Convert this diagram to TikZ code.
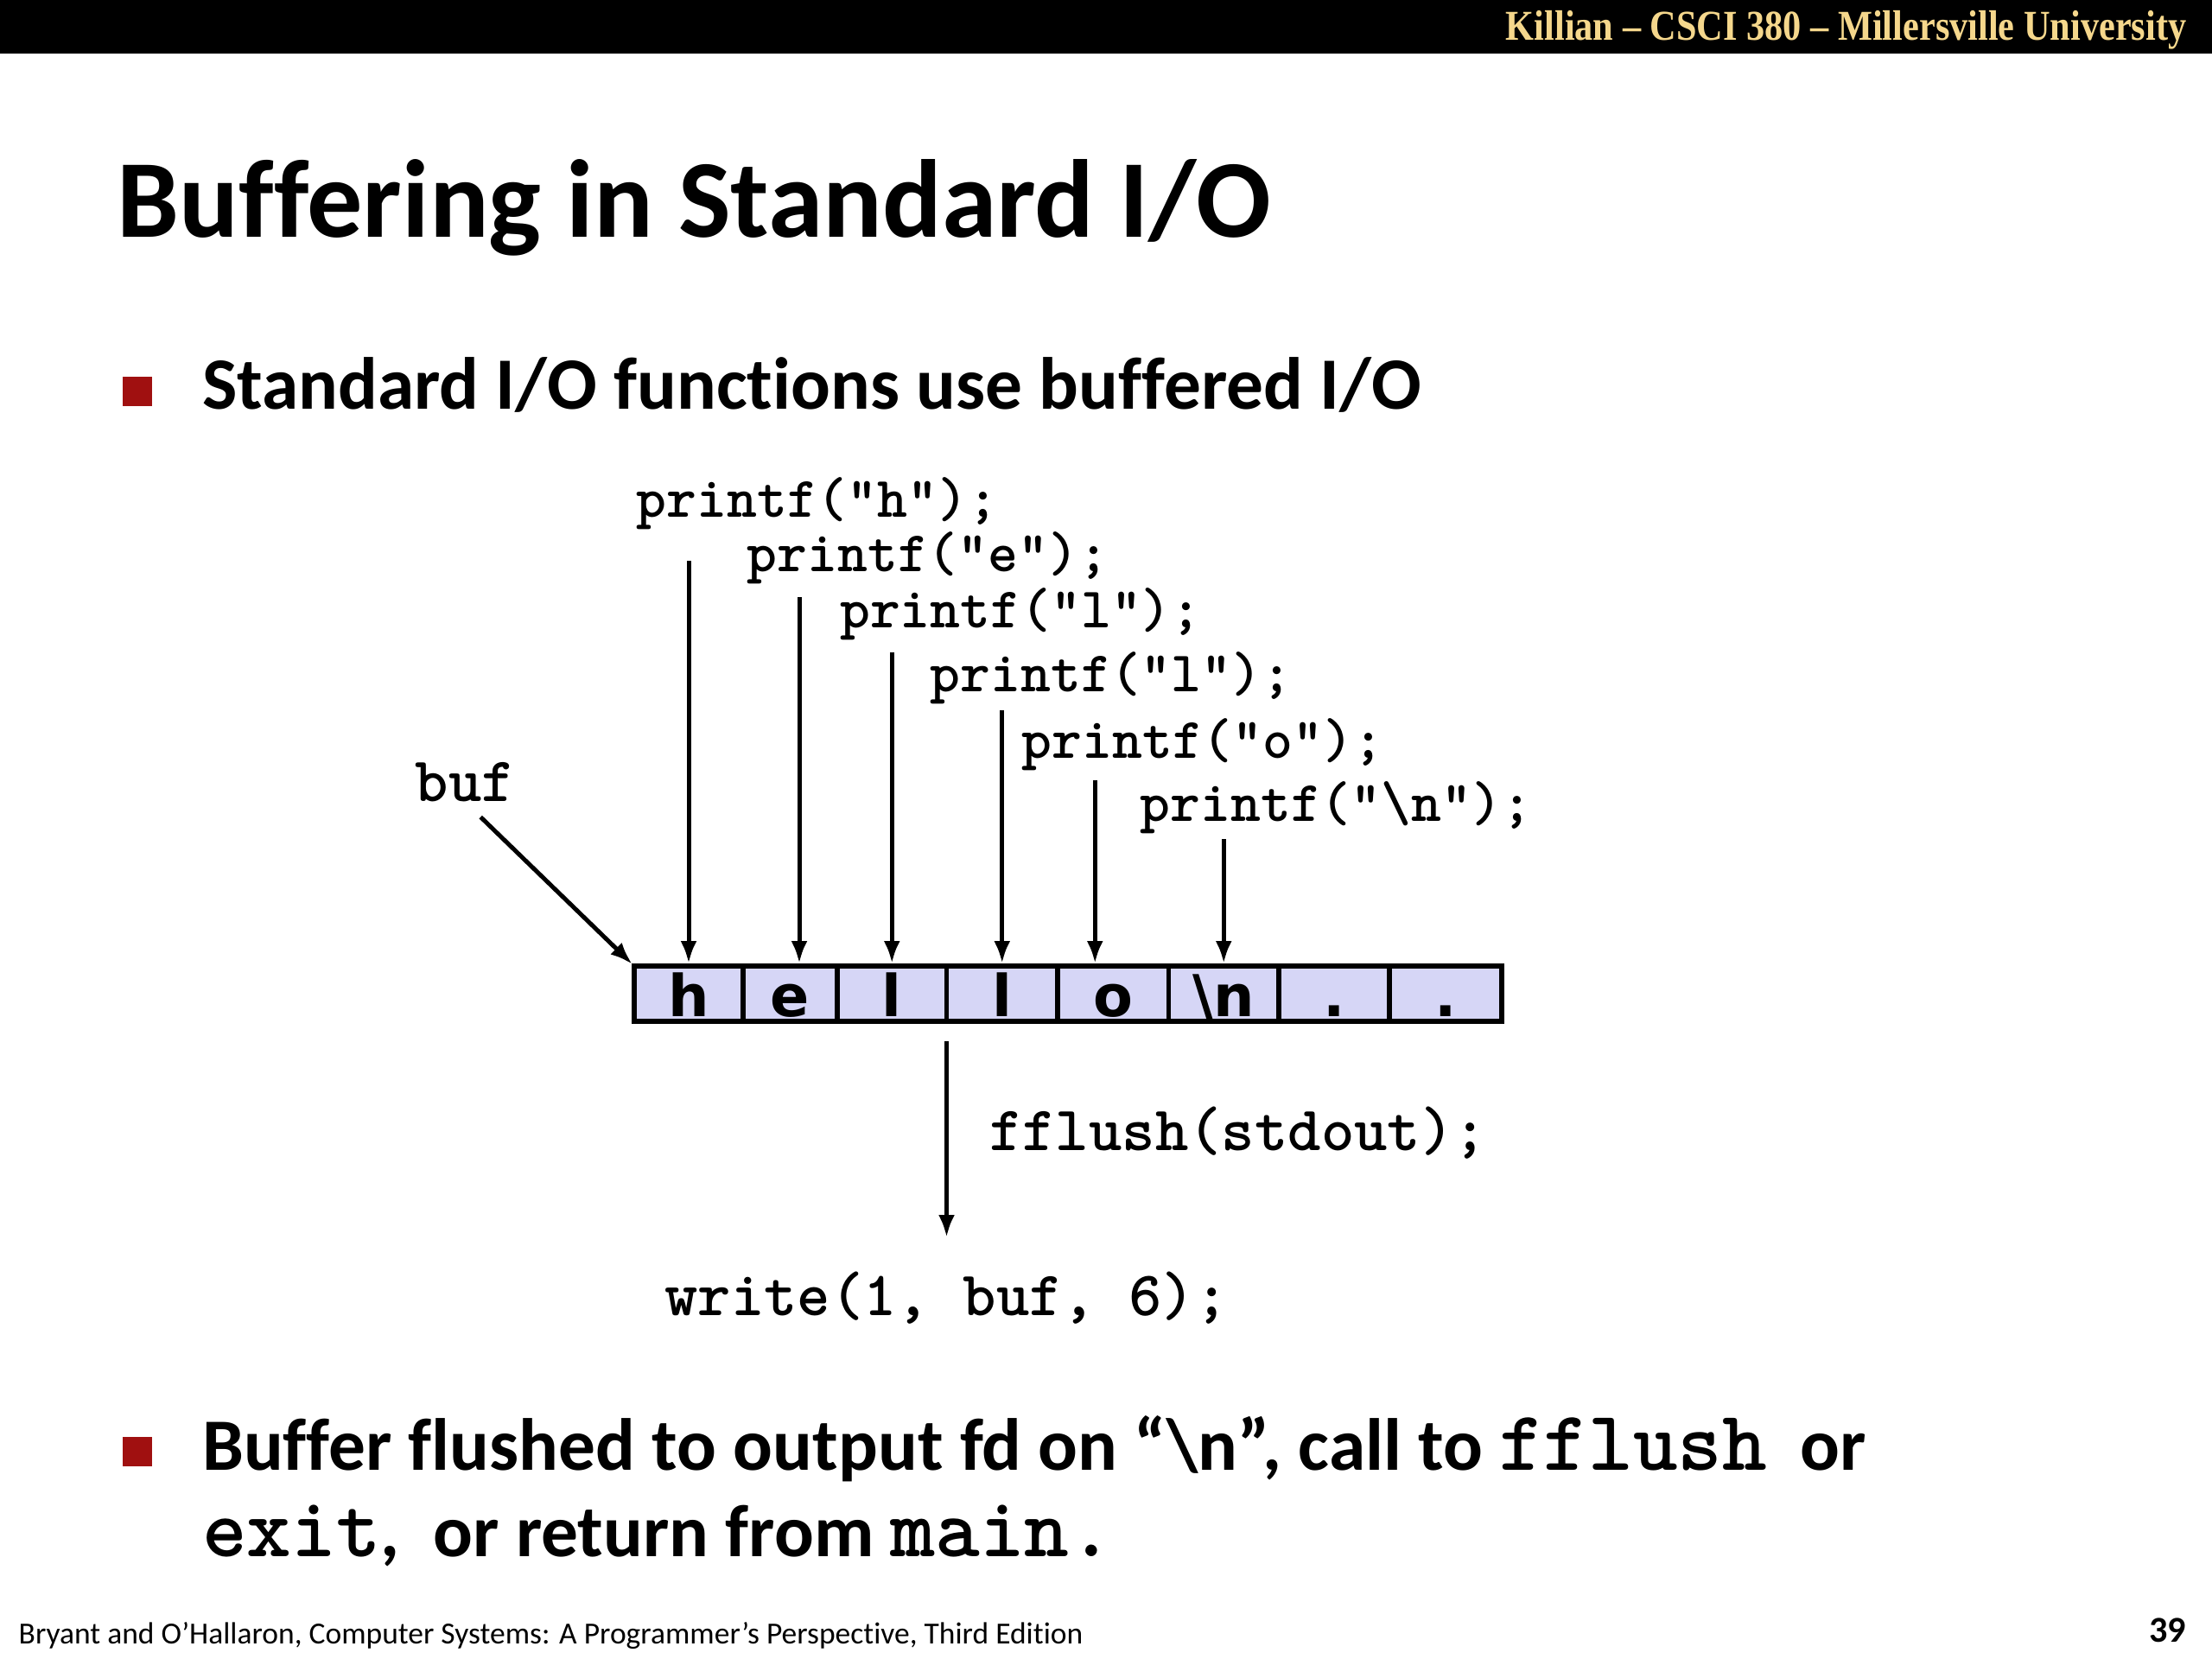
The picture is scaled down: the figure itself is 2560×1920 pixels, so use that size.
\documentclass[tikz,border=0pt]{standalone}
\usepackage{fontspec}
\setmainfont{Carlito}[Ligatures={TeX,NoCommon}]
\newfontfamily\hdrfont{Liberation Serif}
\newfontfamily\cellfont{DejaVu Sans}
\usetikzlibrary{arrows.meta,positioning}

\definecolor{hdrgold}{RGB}{245,215,140}
\definecolor{bulletred}{RGB}{160,16,16}
\definecolor{cellfill}{RGB}{214,214,246}

\tikzset{
  code/.style={font=\ttfamily\bfseries\fontsize{18.9}{20}\selectfont, inner sep=0pt, anchor=base west},
  bigcode/.style={code, font=\ttfamily\bfseries\fontsize{20.8}{22}\selectfont},
  cell/.style={draw, line width=0.55mm, fill=cellfill, minimum height=6.4mm, inner sep=0pt, outer sep=0pt,
    text height=5.2mm, text depth=0pt, font=\cellfont\bfseries\fontsize{19}{20}\selectfont},
  ptr/.style={line width=0.5mm, -{Latex[length=2.6mm,width=1.9mm]}},
  bulletsq/.style={fill=bulletred, minimum size=3.4mm, inner sep=0pt},
  bullettext/.style={font=\bfseries\fontsize{24.3}{28.45}\selectfont, inner sep=0pt, anchor=base west},
}
\newcommand\bulletcode[1]{{\ttfamily\fontsize{28}{28.45}\selectfont #1}}

\begin{document}
\begin{tikzpicture}[x=0.1mm,y=-0.1mm]
  \useasboundingbox[fill=white] (0,0) rectangle (2560,1920);
  % header bar
  \fill[black] (0,0) rectangle (2560,62);
  \node[anchor=base east, inner sep=0pt, text=hdrgold, font=\hdrfont\bfseries\fontsize{14}{16}\selectfont] (hdr) at (2531,46)
    {\scalebox{0.86}[1]{Killian – CSCI 380 – Millersville University}};
  % title and first bullet
  \node[anchor=base west, inner sep=0pt, font=\bfseries\fontsize{36.5}{44}\selectfont] (title) at (135,274) {Buffering in Standard I/O};
  \node[bulletsq] (sq1) at (159,453) {};
  \node[bullettext] (b1) at (233.5,473.5) {Standard I/O functions use buffered I/O};
  % the calls
  \node[code] (p1) at (736,598) {printf("h");};
  \node[code] (p2) at (864,661) {printf("e");};
  \node[code] (p3) at (971.5,726.5) {printf("l");};
  \node[code] (p4) at (1076,800) {printf("l");};
  \node[code] (p5) at (1182,877) {printf("o");};
  \node[code] (p6) at (1319,950) {printf("\textbackslash n");};
  \node[bigcode] (buf) at (480,927) {buf};
  % the buffer
  \node[cell, minimum width=12.6mm, anchor=north west] (c1) at (734,1118) {h};
  \node[cell, minimum width=10.9mm, right=0pt of c1] (c2) {e};
  \node[cell, minimum width=12.65mm, right=0pt of c2] (c3) {l};
  \node[cell, minimum width=12.85mm, right=0pt of c3] (c4) {l};
  \node[cell, minimum width=12.85mm, right=0pt of c4] (c5) {o};
  \node[cell, minimum width=12.75mm, right=0pt of c5] (c6) {\textbackslash n};
  \node[cell, minimum width=12.8mm, right=0pt of c6] (c7) {.};
  \node[cell, minimum width=13mm, right=0pt of c7] (c8) {.};
  \foreach \c/\p/\dx/\s in {c1/p1/0/3.6,c2/p2/1.05/1.5,c3/p3/0/1.3,c4/p4/0/0.7,c5/p5/-2.1/1.1,c6/p6/0/0.6}
    \draw[ptr, shorten <=\s mm, shorten >=0.3mm] ([xshift=\dx mm]\c.north |- \p.south) -- ([xshift=\dx mm]\c.north);
  \draw[ptr, shorten <=2.5mm, shorten >=0.3mm] (buf.south) -- (c1.north west);
  % flush to the fd
  \node[bigcode] (flush) at (1144.5,1331) {fflush(stdout);};
  \node[bigcode, anchor=base] (write) at (1095.5,1522) {write(1, buf, 6);};
  \coordinate (flushend) at (1095.5,1432);
  \draw[ptr, shorten <=2.3mm] (flushend |- c3.south) -- (flushend);
  % second bullet
  \node[bulletsq] (sq2) at (159,1680) {};
  \node[bullettext] (b2a) at (233.5,1701) {Buffer flushed to output fd on “\textbackslash n”, call to \bulletcode{fflush}\ \ or};
  \node[bullettext] (b2b) at (233.5,1801) {\bulletcode{exit},\ \ or return from \bulletcode{main.}};
  % footer
  \node[anchor=base west, inner sep=0pt, font=\fontsize{10.1}{12}\selectfont] (foot) at (21,1902)
    {Bryant and O’Hallaron, Computer Systems: A Programmer’s Perspective, Third Edition};
  \node[anchor=base east, inner sep=0pt, font=\bfseries\fontsize{12}{14}\selectfont] (pg) at (2531,1900) {39};
\end{tikzpicture}
\end{document}
